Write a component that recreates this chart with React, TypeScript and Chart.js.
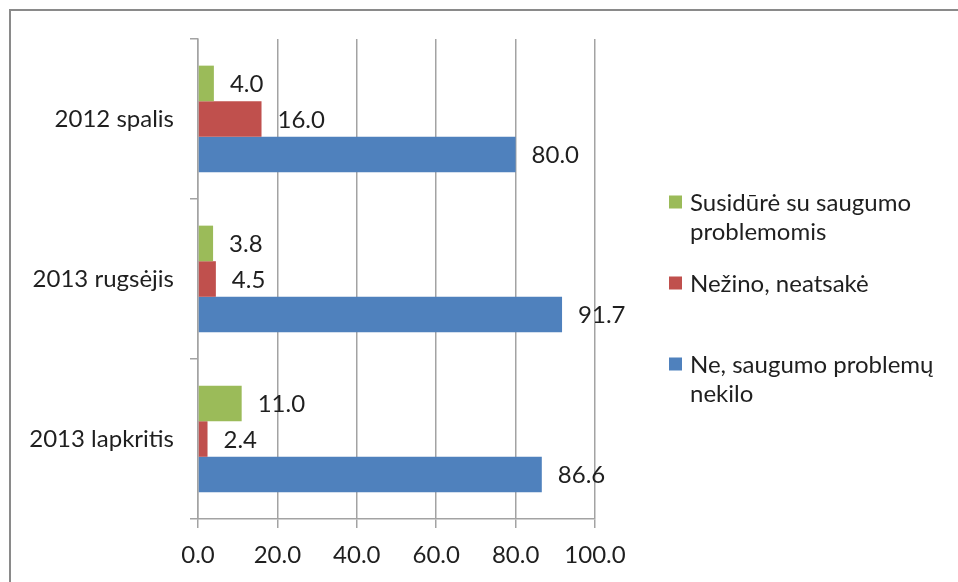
import React, { useEffect, useRef } from "react";
import { Chart, registerables } from "chart.js";

Chart.register(...registerables);

// Survey waves (one row each) and the three answer groups
const categories = ["2012 spalis", "2013 rugsėjis", "2013 lapkritis"];
const seriesLabels = [
  "Susidūrė su saugumo problemomis",
  "Nežino, neatsakė",
  "Ne, saugumo problemų nekilo",
];
const facedProblems = [4.0, 3.8, 11.0];
const dontKnow = [16.0, 4.5, 2.4];
const noProblems = [80.0, 91.7, 86.6];
const xTicks = [0, 20, 40, 60, 80, 100];

const COLORS = ["#9BBB59", "#C0504D", "#4F81BD"];
const TEXT = "#1f1f1f";
const GRID = "#a3a3a3";
const FONT = "Lato";
const FONT_SIZE = 24;

// Frame around the whole chart (top and left edges are visible)
const framePlugin = {
  id: "frame",
  beforeDraw(chart: any) {
    const ctx = chart.ctx;
    ctx.save();
    ctx.fillStyle = "#ffffff";
    ctx.fillRect(0, 0, chart.width, chart.height);
    ctx.fillStyle = "#8a8a8a";
    ctx.fillRect(9, 9, chart.width, 2);
    ctx.fillRect(9, 9, 2, chart.height);
    ctx.restore();
  },
};

// Value labels to the right of each bar end
const valueLabelPlugin = {
  id: "valueLabels",
  afterDatasetsDraw(chart: any) {
    const ctx = chart.ctx;
    ctx.save();
    ctx.font = `${FONT_SIZE}px ${FONT}`;
    ctx.fillStyle = TEXT;
    ctx.textAlign = "left";
    ctx.textBaseline = "middle";
    chart.data.datasets.forEach((ds: any, i: number) => {
      const meta = chart.getDatasetMeta(i);
      meta.data.forEach((bar: any, j: number) => {
        const v = ds.data[j] as number;
        ctx.fillText(v.toFixed(1), bar.x + 16, bar.y + 1);
      });
    });
    ctx.restore();
  },
};

function wrapText(ctx: CanvasRenderingContext2D, text: string, maxWidth: number) {
  const words = text.split(" ");
  const lines: string[] = [];
  let line = "";
  for (const w of words) {
    const test = line ? line + " " + w : w;
    if (line && ctx.measureText(test).width > maxWidth) {
      lines.push(line);
      line = w;
    } else {
      line = test;
    }
  }
  if (line) lines.push(line);
  return lines;
}

// Legend on the right with wrapped entries
const sideLegendPlugin = {
  id: "sideLegend",
  afterDraw(chart: any) {
    const ctx = chart.ctx;
    const boxX = 669;
    const boxSize = 13;
    const textX = 690;
    const firstY = 202;
    const pitch = 81;
    const lineH = 29;
    ctx.save();
    ctx.font = `${FONT_SIZE}px ${FONT}`;
    ctx.textAlign = "left";
    ctx.textBaseline = "middle";
    chart.data.datasets.forEach((ds: any, i: number) => {
      const cy = firstY + pitch * i;
      ctx.fillStyle = ds.backgroundColor;
      ctx.fillRect(boxX, cy - boxSize / 2, boxSize, boxSize);
      ctx.fillStyle = TEXT;
      const lines = wrapText(ctx, ds.label, chart.width - textX - 4);
      lines.forEach((ln, k) => ctx.fillText(ln, textX, cy + 1 + k * lineH));
    });
    ctx.restore();
  },
};

export default function App() {
  const canvasRef = useRef<HTMLCanvasElement | null>(null);

  useEffect(() => {
    if (!canvasRef.current) return;
    const chart = new Chart(canvasRef.current, {
      type: "bar",
      data: {
        labels: categories,
        datasets: [facedProblems, dontKnow, noProblems].map((d, i) => ({
          label: seriesLabels[i],
          data: d,
          backgroundColor: COLORS[i],
          borderWidth: 0,
          categoryPercentage: 0.667,
          barPercentage: 1.0,
        })),
      },
      options: {
        indexAxis: "y",
        responsive: false,
        animation: false,
        layout: { padding: { top: 39, left: 0, right: 363, bottom: 0 } },
        plugins: {
          legend: { display: false },
          tooltip: { enabled: false },
          title: { display: false },
        },
        scales: {
          x: {
            min: 0,
            max: 100,
            afterBuildTicks: (scale: any) => {
              scale.ticks = xTicks.map((v) => ({ value: v }));
            },
            afterFit: (scale: any) => {
              scale.height = 63;
            },
            ticks: {
              color: TEXT,
              font: { family: FONT, size: FONT_SIZE },
              padding: 13,
              maxRotation: 0,
              callback: (v: any) => Number(v).toFixed(1),
            },
            grid: {
              color: GRID,
              lineWidth: 1.5,
              drawTicks: true,
              tickLength: 9,
            },
            border: { display: true, color: GRID, width: 1.5 },
          },
          y: {
            afterFit: (scale: any) => {
              scale.width = 198;
            },
            ticks: {
              color: TEXT,
              font: { family: FONT, size: FONT_SIZE },
              padding: 16,
            },
            grid: {
              offset: true,
              drawOnChartArea: false,
              drawTicks: true,
              tickLength: 8,
              color: GRID,
              lineWidth: 1.5,
            },
            border: { display: true, color: GRID, width: 1.5 },
          },
        },
      },
      plugins: [framePlugin, valueLabelPlugin, sideLegendPlugin],
    });
    return () => chart.destroy();
  }, []);

  return (
    <div style={{ position: "absolute", left: 0, top: 0, width: 958, height: 582 }}>
      <canvas ref={canvasRef} width={958} height={582} style={{ display: "block" }} />
    </div>
  );
}
